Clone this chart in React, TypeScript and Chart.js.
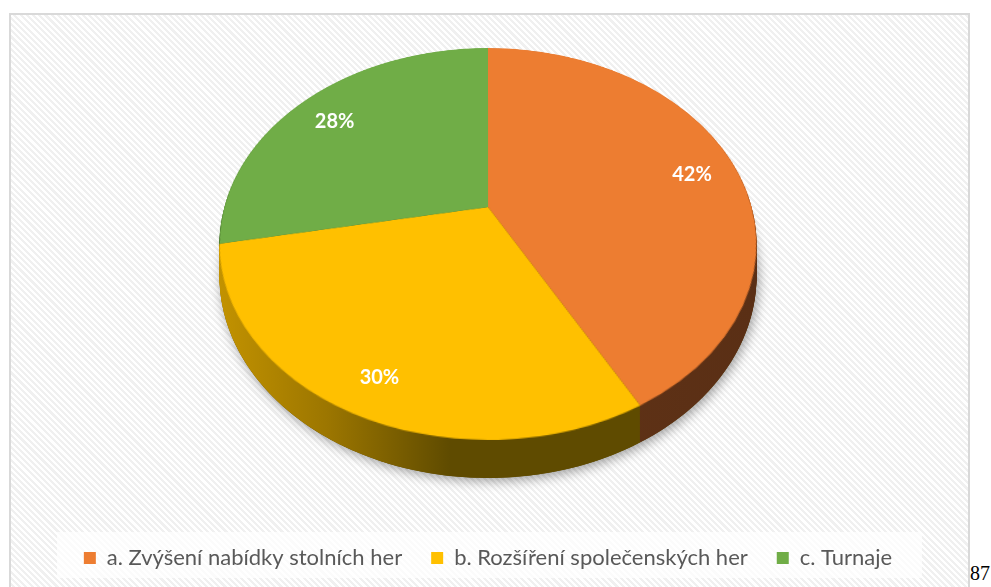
import React, { useEffect, useRef } from "react";
import { Chart, registerables } from "chart.js";

Chart.register(...registerables);

const categories = [
  "a. Zvýšení nabídky stolních her",
  "b. Rozšíření společenských her",
  "c. Turnaje",
];
const values = [42, 30, 28];
const valueLabels = ["42%", "30%", "28%"];
const topColors = ["#ED7D31", "#FFC000", "#70AD47"];
const pageNumber = "87";

// perspective parameters of the tilted pie (style only)
const PA = 263.7; // horizontal half-size factor
const PB = 189; // vertical factor
const PK = 0.1887; // perspective strength
const DEPTH = 38; // side thickness at the nearest point
const LABEL_F = 0.83;
const LABEL_DY = 5;

function sideFill(ctx: CanvasRenderingContext2D, i: number, x0: number, x1: number) {
  const g = ctx.createLinearGradient(x0, 0, x1, 0);
  if (i === 0) {
    g.addColorStop(0, "#6a3818");
    g.addColorStop(1, "#5a2f15");
  } else if (i === 1) {
    g.addColorStop(0, "#c29200");
    g.addColorStop(0.2, "#9c7600");
    g.addColorStop(0.43, "#5f4b00");
    g.addColorStop(1, "#5f4b00");
  } else {
    g.addColorStop(0, "#3d6127");
    g.addColorStop(1, "#3d6127");
  }
  return g;
}

const pie3d = {
  id: "pie3d",
  afterDatasetsDraw(chart: any) {
    const arcs = chart.getDatasetMeta(0).data;
    if (!arcs.length) return;
    const ctx: CanvasRenderingContext2D = chart.ctx;
    const a0 = arcs[0];
    const cx = a0.x, cy = a0.y, R = a0.outerRadius;
    const X0 = cx;
    const Y0 = chart.chartArea.top + PB / (1 + PK);

    // capture the flat pie drawn by Chart.js
    const pad = 2;
    const size = Math.ceil(2 * R + 2 * pad);
    const off = document.createElement("canvas");
    off.width = size;
    off.height = size;
    const octx = off.getContext("2d")!;
    const sx0 = Math.round(cx - R - pad), sy0 = Math.round(cy - R - pad);
    octx.drawImage(chart.canvas, sx0, sy0, size, size, 0, 0, size, size);
    const ocx = cx - sx0, ocy = cy - sy0;
    ctx.save();
    ctx.clearRect(sx0, sy0, size, size);

    const proj = (th: number, r: number, d: number) => {
      const u = r * Math.cos(th), v = r * Math.sin(th);
      const w = 1 / (1 - PK * v);
      return [X0 + PA * u * w, Y0 + PB * v * w + d * (1 - PK) * w];
    };
    const slicePath = (arc: any, d: number) => {
      ctx.beginPath();
      const c = proj(0, 0, d);
      ctx.moveTo(c[0], c[1]);
      const n = Math.max(8, Math.ceil((arc.endAngle - arc.startAngle) * 60));
      for (let j = 0; j <= n; j++) {
        const th = arc.startAngle + ((arc.endAngle - arc.startAngle) * j) / n;
        const p = proj(th, 1, d);
        ctx.lineTo(p[0], p[1]);
      }
      ctx.closePath();
    };
    const xL = X0 - PA / Math.sqrt(1 - PK * PK);
    const xR = X0 + PA / Math.sqrt(1 - PK * PK);

    // soft shadow
    ctx.save();
    ctx.shadowColor = "rgba(0,0,0,0.38)";
    ctx.shadowBlur = 12;
    ctx.shadowOffsetX = 2;
    ctx.shadowOffsetY = 3;
    ctx.beginPath();
    for (let j = 0; j <= 240; j++) {
      const p = proj((Math.PI * 2 * j) / 240, 1, DEPTH);
      if (j === 0) ctx.moveTo(p[0], p[1]);
      else ctx.lineTo(p[0], p[1]);
    }
    ctx.closePath();
    ctx.fillStyle = "#5a4500";
    ctx.fill();
    ctx.restore();

    // side layers
    for (let d = DEPTH; d >= 1; d -= 1) {
      arcs.forEach((arc: any, i: number) => {
        slicePath(arc, d);
        ctx.fillStyle = sideFill(ctx, i, xL, xR);
        ctx.fill();
      });
    }

    // top face: the Chart.js pie warped into perspective row by row
    const topY = Y0 - PB / (1 + PK);
    const botY = Y0 + PB / (1 - PK);
    const vOf = (y: number) => {
      const s = y - Y0;
      return s / (PB + PK * s);
    };
    ctx.imageSmoothingEnabled = true;
    for (let yy = Math.floor(topY); yy < Math.ceil(botY); yy++) {
      let v1 = vOf(yy), v2 = vOf(yy + 1);
      v1 = Math.max(-1, v1);
      v2 = Math.min(1, v2);
      if (v2 <= v1) continue;
      const vm = (v1 + v2) / 2;
      const w = 1 / (1 - PK * vm);
      const srcT = ocy + R * v1;
      const srcH = R * (v2 - v1);
      ctx.drawImage(off, ocx - R, srcT, 2 * R, srcH, X0 - PA * w, yy, 2 * PA * w, 1);
    }

    // value labels
    ctx.fillStyle = "#ffffff";
    ctx.font = "bold 20px Lato";
    ctx.textAlign = "center";
    ctx.textBaseline = "middle";
    arcs.forEach((arc: any, i: number) => {
      const mid = (arc.startAngle + arc.endAngle) / 2;
      const p = proj(mid, LABEL_F, 0);
      ctx.fillText(valueLabels[i], p[0], p[1] + LABEL_DY);
    });
    ctx.restore();
  },
};

export default function App() {
  const ref = useRef<HTMLCanvasElement | null>(null);
  useEffect(() => {
    if (!ref.current) return;
    const chart = new Chart(ref.current, {
      type: "pie",
      data: {
        labels: categories,
        datasets: [
          {
            data: values,
            backgroundColor: topColors,
            borderWidth: 0,
          },
        ],
      },
      options: {
        animation: false,
        responsive: false,
        events: [],
        layout: { padding: { top: 33, bottom: 8, left: 4, right: 7 } },
        plugins: {
          tooltip: { enabled: false },
          legend: {
            position: "bottom",
            labels: {
              boxWidth: 12,
              boxHeight: 12,
              padding: 29,
              color: "#595959",
              font: { family: "Lato", size: 22 },
            },
          },
        },
      },
      plugins: [pie3d],
    });
    return () => chart.destroy();
  }, []);

  return (
    <div
      style={{
        position: "fixed",
        left: 0,
        top: 0,
        width: 991,
        height: 587,
        background: "#ffffff",
        overflow: "hidden",
      }}
    >
      <div
        style={{
          position: "absolute",
          left: 9,
          top: 13,
          width: 957,
          height: 580,
          border: "2px solid #d9d9d9",
          borderBottom: "none",
          background:
            "repeating-linear-gradient(45deg, #ffffff 0px, #ffffff 2.2px, #f0f0f0 2.2px, #f0f0f0 4.4px)",
        }}
      >
        <div
          style={{
            position: "absolute",
            left: 46,
            top: 517,
            width: 865,
            height: 46,
            background: "rgba(255,255,255,0.75)",
          }}
        />
        <canvas
          ref={ref}
          width={957}
          height={572}
          style={{ position: "absolute", left: 0, top: 0, width: 957, height: 572 }}
        />
      </div>
      <div
        style={{
          position: "absolute",
          left: 970,
          top: 561,
          fontFamily: "'Liberation Serif', 'Times New Roman', serif",
          fontSize: 20,
          color: "#000",
          lineHeight: "24px",
        }}
      >
        {pageNumber}
      </div>
    </div>
  );
}
